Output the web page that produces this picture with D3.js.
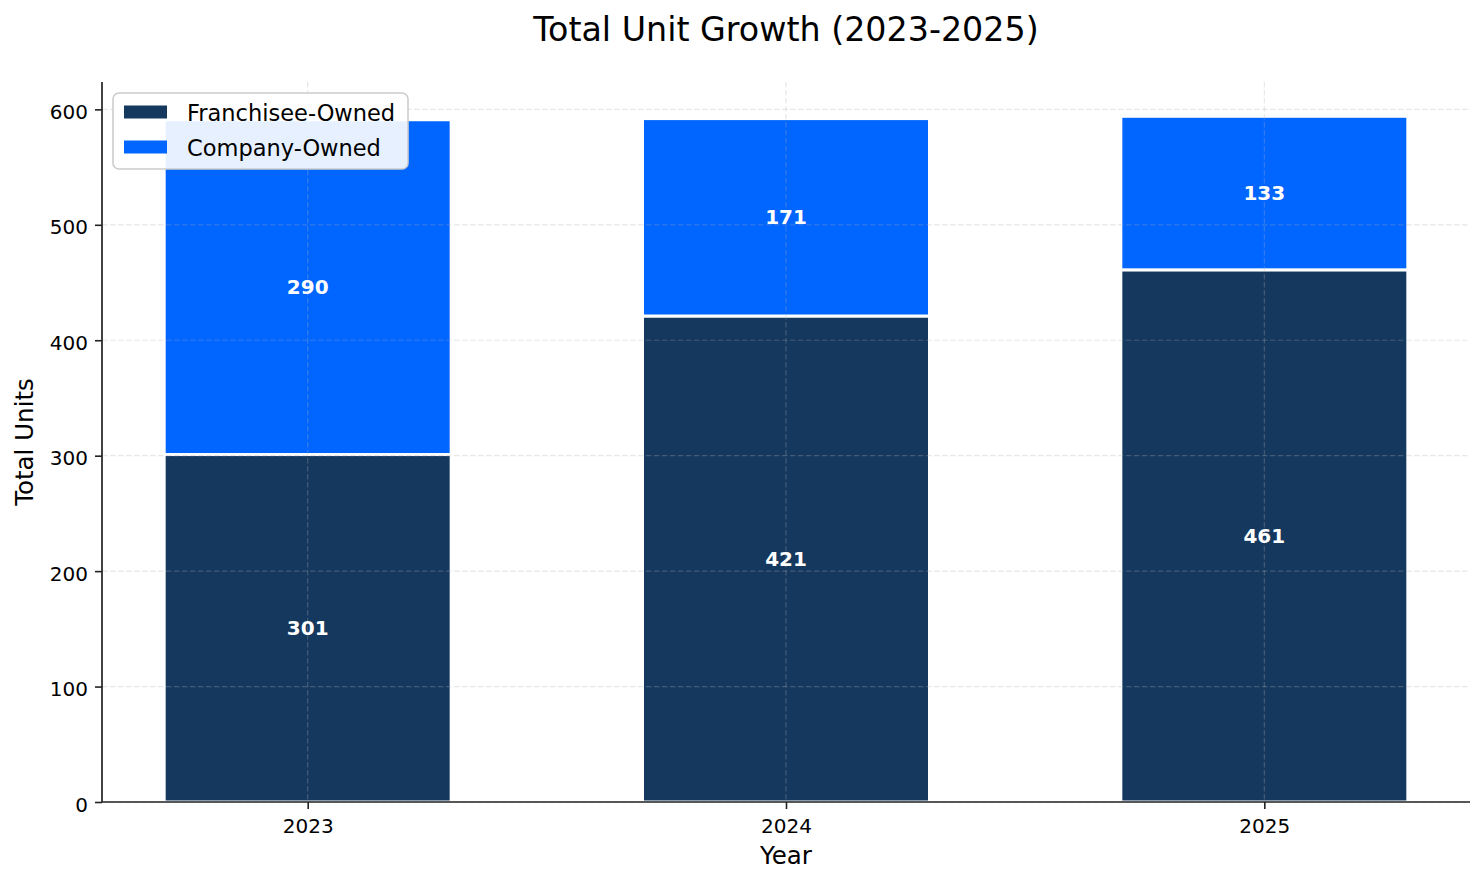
<!DOCTYPE html>
<html>
<head>
<meta charset="utf-8">
<script src="https://cdn.jsdelivr.net/npm/d3@7"></script>
<style>
  body { margin: 0; background: #fff; }
  text { font-family: "DejaVu Sans", sans-serif; }
</style>
</head>
<body>
<div id="chart"></div>
<script>
// data
const years = ["2023", "2024", "2025"];
const franchisee = [301, 421, 461];
const company = [290, 171, 133];
const series_names = ["Franchisee-Owned", "Company-Owned"];
const y_ticks = [0, 100, 200, 300, 400, 500, 600];

// consts
const W = 1484, H = 884;
const margin = {top: 82, right: 14, bottom: 82, left: 102};
const width = W - margin.left - margin.right;
const height = H - margin.top - margin.bottom;
const colors = ["#15385e", "#0066ff"];

const svg = d3.select("#chart").append("svg")
    .attr("width", W)
    .attr("height", H);

const g = svg.append("g")
    .attr("transform", "translate(" + margin.left + "," + margin.top + ")");

// scales: numeric x like matplotlib, bars of width 0.6
const bw = 0.6;
const xpad = (years.length - 1 + bw) * 0.05;
const x = d3.scaleLinear()
    .domain([-bw / 2 - xpad, years.length - 1 + bw / 2 + xpad])
    .range([0, width]);

const totals = years.map((y, i) => franchisee[i] + company[i]);
const y = d3.scaleLinear()
    .domain([0, d3.max(totals) * 1.05])
    .range([height, 0]);

// stacked data
const rows = years.map((yr, i) => ({year: yr, i: i, f: franchisee[i], c: company[i]}));
const stack = d3.stack().keys(["f", "c"])(rows);

stack.forEach((layer, k) => {
    g.append("g").selectAll("rect")
        .data(layer)
        .enter()
        .append("rect")
        .attr("x", d => x(d.data.i - bw / 2))
        .attr("width", d => x(bw) - x(0))
        .attr("y", d => y(d[1]))
        .attr("height", d => y(d[0]) - y(d[1]))
        .attr("fill", colors[k])
        .attr("stroke", "#fff")
        .attr("stroke-width", 3);
});

// grid on top of bars
const grid = g.append("g");
y_ticks.forEach(t => {
    grid.append("line")
        .attr("x1", 0).attr("x2", width)
        .attr("y1", y(t)).attr("y2", y(t))
        .attr("stroke", "#b0b0b0").attr("stroke-opacity", 0.3)
        .attr("stroke-dasharray", "5.5,2.5").attr("stroke-width", 1.2);
});
years.forEach((yr, i) => {
    grid.append("line")
        .attr("x1", x(i)).attr("x2", x(i))
        .attr("y1", 0).attr("y2", height)
        .attr("stroke", "#b0b0b0").attr("stroke-opacity", 0.3)
        .attr("stroke-dasharray", "5.5,2.5").attr("stroke-width", 1.2);
});

// value labels
stack.forEach(layer => {
    g.append("g").selectAll("text")
        .data(layer)
        .enter()
        .append("text")
        .attr("x", d => x(d.data.i))
        .attr("y", d => y((d[0] + d[1]) / 2))
        .attr("dy", "0.36em")
        .attr("text-anchor", "middle")
        .attr("fill", "#fff")
        .style("font-weight", "bold")
        .style("font-size", "20px")
        .text(d => d[1] - d[0]);
});

// axes
const xAxis = g.append("g")
    .attr("transform", "translate(0," + height + ")")
    .call(d3.axisBottom(x).tickValues(d3.range(years.length))
        .tickFormat(i => years[i]).tickSize(7).tickPadding(10));
const yAxis = g.append("g")
    .call(d3.axisLeft(y).tickValues(y_ticks).tickSize(7).tickPadding(7));

[xAxis, yAxis].forEach(a => {
    a.selectAll("text").attr("fill", "#000")
        .style("font-size", "20px")
        .style("font-family", "DejaVu Sans, sans-serif");
    a.selectAll("line").attr("stroke", "#222").attr("stroke-width", 1.6);
    a.select(".domain").attr("stroke", "#222").attr("stroke-width", 1.7);
});
yAxis.selectAll("text").attr("dy", "0.45em");
// no outer ticks on spines
xAxis.select(".domain").attr("d", "M0,0H" + width);
yAxis.select(".domain").attr("d", "M0,0V" + height);

// titles
svg.append("text")
    .attr("x", margin.left + width / 2)
    .attr("y", 41)
    .attr("text-anchor", "middle")
    .style("font-size", "33.3px")
    .text("Total Unit Growth (2023-2025)");

svg.append("text")
    .attr("x", margin.left + width / 2)
    .attr("y", 864)
    .attr("text-anchor", "middle")
    .style("font-size", "24.5px")
    .text("Year");

svg.append("text")
    .attr("transform", "translate(33," + (margin.top + height / 2) + ") rotate(-90)")
    .attr("text-anchor", "middle")
    .style("font-size", "24.5px")
    .text("Total Units");

// legend
const leg = g.append("g").attr("transform", "translate(11,11)");
leg.append("rect")
    .attr("width", 295).attr("height", 76)
    .attr("rx", 6)
    .attr("fill", "#fff").attr("fill-opacity", 0.9)
    .attr("stroke", "#cccccc").attr("stroke-width", 1.6);
series_names.forEach((name, k) => {
    const row = leg.append("g").attr("transform", "translate(0," + (19 + k * 35) + ")");
    row.append("rect")
        .attr("x", 11).attr("y", -6.5)
        .attr("width", 43).attr("height", 13)
        .attr("fill", colors[k]);
    row.append("text")
        .attr("x", 74).attr("y", 1)
        .attr("dy", "0.36em")
        .style("font-size", "22.5px")
        .text(name);
});
</script>
</body>
</html>
